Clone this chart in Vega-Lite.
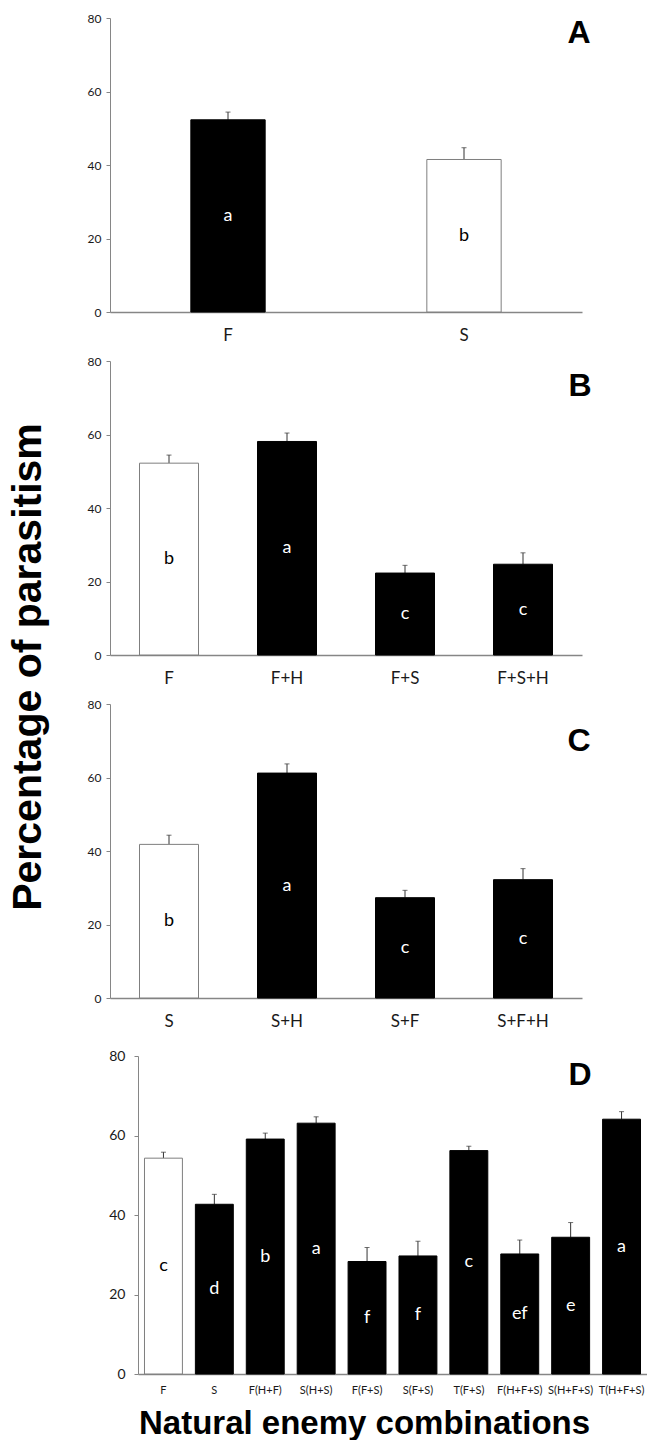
{
  "$schema": "https://vega.github.io/schema/vega-lite/v6.json",
  "background": "white",
  "padding": {"left": 8, "top": 12, "right": 0, "bottom": 0},
  "title": {"text": "Percentage of parasitism", "orient": "left", "anchor": "middle", "font": "Liberation Sans", "fontWeight": "bold", "fontSize": 41, "color": "black", "offset": 37, "dx": 59},
  "config": {
    "view": {"stroke": null},
    "axis": {"grid": false, "domainColor": "#868686", "tickColor": "#868686", "labelFont": "Lato", "labelColor": "#1a1a1a", "titleColor": "black"},
    "axisX": {"ticks": false, "tickSize": 0, "labelAngle": 0, "domainWidth": 1.5},
    "axisY": {"tickSize": 4, "labelPadding": 5}
  },
  "spacing": 20,
  "vconcat": [
    {
      "spacing": 12,
      "vconcat": [
        {
          "width": 472, "height": 294,
          "layer": [
            {
              "data": {"values": [
                {"cat": "F", "value": 52.3, "upper": 54.4, "letter": "a", "role": "treatment"},
                {"cat": "S", "value": 41.5, "upper": 44.7, "letter": "b", "role": "control"}
              ]},
              "transform": [{"calculate": "datum.value / 2", "as": "mid"}],
              "encoding": {
                "x": {"field": "cat", "type": "nominal", "sort": null, "title": null,
                      "scale": {"paddingInner": 0.685, "paddingOuter": 0.3425},
                      "axis": {"labelFontSize": 17, "labelPadding": 15}}
              },
              "layer": [
                {"mark": {"type": "rule", "color": "#333", "strokeWidth": 1},
                 "encoding": {"y": {"field": "value", "type": "quantitative"}, "y2": {"field": "upper"}}},
                {"mark": {"type": "tick", "color": "#333", "thickness": 1, "size": 5},
                 "encoding": {"y": {"field": "upper", "type": "quantitative"}}},
                {"mark": {"type": "bar", "strokeWidth": 1},
                 "encoding": {
                   "y": {"field": "value", "type": "quantitative", "title": null,
                         "scale": {"domain": [0, 80]},
                         "axis": {"values": [0, 20, 40, 60, 80], "labelFontSize": 12}},
                   "fill": {"field": "role", "type": "nominal", "legend": null, "scale": {"domain": ["control", "treatment"], "range": ["white", "black"]}},
                   "stroke": {"field": "role", "type": "nominal", "legend": null, "scale": {"domain": ["control", "treatment"], "range": ["#7f7f7f", "black"]}}
                 }},
                {"mark": {"type": "text", "font": "Lato", "fontSize": 18, "baseline": "middle"},
                 "encoding": {
                   "y": {"field": "mid", "type": "quantitative"},
                   "text": {"field": "letter"},
                   "color": {"field": "role", "type": "nominal", "legend": null, "scale": {"domain": ["control", "treatment"], "range": ["black", "white"]}}
                 }}
              ]
            },
            {
              "data": {"values": [{"panel": "A"}]},
              "mark": {"type": "text", "font": "Liberation Sans", "fontWeight": "bold", "fontSize": 32, "align": "center", "baseline": "middle", "dx": -3, "color": "black"},
              "encoding": {"x": {"value": "width"}, "y": {"datum": 75.9}, "text": {"field": "panel"}}
            }
          ]
        },
        {
          "width": 472, "height": 294,
          "layer": [
            {
              "data": {"values": [
                {"cat": "F", "value": 52.2, "upper": 54.4, "letter": "b", "role": "control"},
                {"cat": "F+H", "value": 58.1, "upper": 60.4, "letter": "a", "role": "treatment"},
                {"cat": "F+S", "value": 22.3, "upper": 24.4, "letter": "c", "role": "treatment"},
                {"cat": "F+S+H", "value": 24.7, "upper": 27.8, "letter": "c", "role": "treatment"}
              ]},
              "transform": [{"calculate": "datum.value / 2", "as": "mid"}],
              "encoding": {
                "x": {"field": "cat", "type": "nominal", "sort": null, "title": null,
                      "scale": {"paddingInner": 0.5, "paddingOuter": 0.25},
                      "axis": {"labelFontSize": 17, "labelPadding": 15}}
              },
              "layer": [
                {"mark": {"type": "rule", "color": "#333", "strokeWidth": 1},
                 "encoding": {"y": {"field": "value", "type": "quantitative"}, "y2": {"field": "upper"}}},
                {"mark": {"type": "tick", "color": "#333", "thickness": 1, "size": 5},
                 "encoding": {"y": {"field": "upper", "type": "quantitative"}}},
                {"mark": {"type": "bar", "strokeWidth": 1},
                 "encoding": {
                   "y": {"field": "value", "type": "quantitative", "title": null,
                         "scale": {"domain": [0, 80]},
                         "axis": {"values": [0, 20, 40, 60, 80], "labelFontSize": 12}},
                   "fill": {"field": "role", "type": "nominal", "legend": null, "scale": {"domain": ["control", "treatment"], "range": ["white", "black"]}},
                   "stroke": {"field": "role", "type": "nominal", "legend": null, "scale": {"domain": ["control", "treatment"], "range": ["#7f7f7f", "black"]}}
                 }},
                {"mark": {"type": "text", "font": "Lato", "fontSize": 18, "baseline": "middle"},
                 "encoding": {
                   "y": {"field": "mid", "type": "quantitative"},
                   "text": {"field": "letter"},
                   "color": {"field": "role", "type": "nominal", "legend": null, "scale": {"domain": ["control", "treatment"], "range": ["black", "white"]}}
                 }}
              ]
            },
            {
              "data": {"values": [{"panel": "B"}]},
              "mark": {"type": "text", "font": "Liberation Sans", "fontWeight": "bold", "fontSize": 32, "align": "center", "baseline": "middle", "dx": -2, "color": "black"},
              "encoding": {"x": {"value": "width"}, "y": {"datum": 73.2}, "text": {"field": "panel"}}
            }
          ]
        },
        {
          "width": 472, "height": 294,
          "layer": [
            {
              "data": {"values": [
                {"cat": "S", "value": 41.8, "upper": 44.3, "letter": "b", "role": "control"},
                {"cat": "S+H", "value": 61.2, "upper": 63.7, "letter": "a", "role": "treatment"},
                {"cat": "S+F", "value": 27.3, "upper": 29.3, "letter": "c", "role": "treatment"},
                {"cat": "S+F+H", "value": 32.2, "upper": 35.2, "letter": "c", "role": "treatment"}
              ]},
              "transform": [{"calculate": "datum.value / 2", "as": "mid"}],
              "encoding": {
                "x": {"field": "cat", "type": "nominal", "sort": null, "title": null,
                      "scale": {"paddingInner": 0.5, "paddingOuter": 0.25},
                      "axis": {"labelFontSize": 17, "labelPadding": 15}}
              },
              "layer": [
                {"mark": {"type": "rule", "color": "#333", "strokeWidth": 1},
                 "encoding": {"y": {"field": "value", "type": "quantitative"}, "y2": {"field": "upper"}}},
                {"mark": {"type": "tick", "color": "#333", "thickness": 1, "size": 5},
                 "encoding": {"y": {"field": "upper", "type": "quantitative"}}},
                {"mark": {"type": "bar", "strokeWidth": 1},
                 "encoding": {
                   "y": {"field": "value", "type": "quantitative", "title": null,
                         "scale": {"domain": [0, 80]},
                         "axis": {"values": [0, 20, 40, 60, 80], "labelFontSize": 12}},
                   "fill": {"field": "role", "type": "nominal", "legend": null, "scale": {"domain": ["control", "treatment"], "range": ["white", "black"]}},
                   "stroke": {"field": "role", "type": "nominal", "legend": null, "scale": {"domain": ["control", "treatment"], "range": ["#7f7f7f", "black"]}}
                 }},
                {"mark": {"type": "text", "font": "Lato", "fontSize": 18, "baseline": "middle"},
                 "encoding": {
                   "y": {"field": "mid", "type": "quantitative"},
                   "text": {"field": "letter"},
                   "color": {"field": "role", "type": "nominal", "legend": null, "scale": {"domain": ["control", "treatment"], "range": ["black", "white"]}}
                 }}
              ]
            },
            {
              "data": {"values": [{"panel": "C"}]},
              "mark": {"type": "text", "font": "Liberation Sans", "fontWeight": "bold", "fontSize": 32, "align": "center", "baseline": "middle", "dx": -3, "color": "black"},
              "encoding": {"x": {"value": "width"}, "y": {"datum": 69.8}, "text": {"field": "panel"}}
            }
          ]
        }
      ]
    },
    {
      "width": 537, "height": 318,
      "layer": [
        {
          "data": {"values": [
            {"cat": "F", "value": 54.3, "upper": 55.8, "letter": "c", "role": "control"},
            {"cat": "S", "value": 42.7, "upper": 45.2, "letter": "d", "role": "treatment"},
            {"cat": "F(H+F)", "value": 59.1, "upper": 60.6, "letter": "b", "role": "treatment"},
            {"cat": "S(H+S)", "value": 63.1, "upper": 64.7, "letter": "a", "role": "treatment"},
            {"cat": "F(F+S)", "value": 28.3, "upper": 31.8, "letter": "f", "role": "treatment"},
            {"cat": "S(F+S)", "value": 29.7, "upper": 33.4, "letter": "f", "role": "treatment"},
            {"cat": "T(F+S)", "value": 56.2, "upper": 57.3, "letter": "c", "role": "treatment"},
            {"cat": "F(H+F+S)", "value": 30.2, "upper": 33.7, "letter": "ef", "role": "treatment"},
            {"cat": "S(H+F+S)", "value": 34.4, "upper": 38.1, "letter": "e", "role": "treatment"},
            {"cat": "T(H+F+S)", "value": 64.1, "upper": 66.0, "letter": "a", "role": "treatment"}
          ]},
          "transform": [{"calculate": "datum.value / 2", "as": "mid"}],
          "encoding": {
            "x": {"field": "cat", "type": "nominal", "sort": null,
                  "title": "Natural enemy combinations",
                  "scale": {"range": [28, 537], "paddingInner": 0.255, "paddingOuter": 0.1275},
                  "axis": {"labelFontSize": 11, "labelPadding": 10, "titleFont": "Liberation Sans", "titleFontWeight": "bold", "titleFontSize": 33, "titlePadding": 12, "titleX": 254, "titleAnchor": "middle"}}
          },
          "layer": [
            {"mark": {"type": "rule", "color": "#333", "strokeWidth": 1},
             "encoding": {"y": {"field": "value", "type": "quantitative"}, "y2": {"field": "upper"}}},
            {"mark": {"type": "tick", "color": "#333", "thickness": 1, "size": 5},
             "encoding": {"y": {"field": "upper", "type": "quantitative"}}},
            {"mark": {"type": "bar", "strokeWidth": 1},
             "encoding": {
               "y": {"field": "value", "type": "quantitative", "title": null,
                     "scale": {"domain": [0, 80]},
                     "axis": {"values": [0, 20, 40, 60, 80], "labelFontSize": 14, "labelPadding": 9, "offset": -28}},
               "fill": {"field": "role", "type": "nominal", "legend": null, "scale": {"domain": ["control", "treatment"], "range": ["white", "black"]}},
               "stroke": {"field": "role", "type": "nominal", "legend": null, "scale": {"domain": ["control", "treatment"], "range": ["#7f7f7f", "black"]}}
             }},
            {"mark": {"type": "text", "font": "Lato", "fontSize": 18, "baseline": "middle"},
             "encoding": {
               "y": {"field": "mid", "type": "quantitative"},
               "text": {"field": "letter"},
               "color": {"field": "role", "type": "nominal", "legend": null, "scale": {"domain": ["control", "treatment"], "range": ["black", "white"]}}
             }}
          ]
        },
        {
          "data": {"values": [{"panel": "D"}]},
          "mark": {"type": "text", "font": "Liberation Sans", "fontWeight": "bold", "fontSize": 32, "align": "center", "baseline": "middle", "dx": -67, "color": "black"},
          "encoding": {"x": {"value": "width"}, "y": {"datum": 75.2}, "text": {"field": "panel"}}
        }
      ]
    }
  ]
}
